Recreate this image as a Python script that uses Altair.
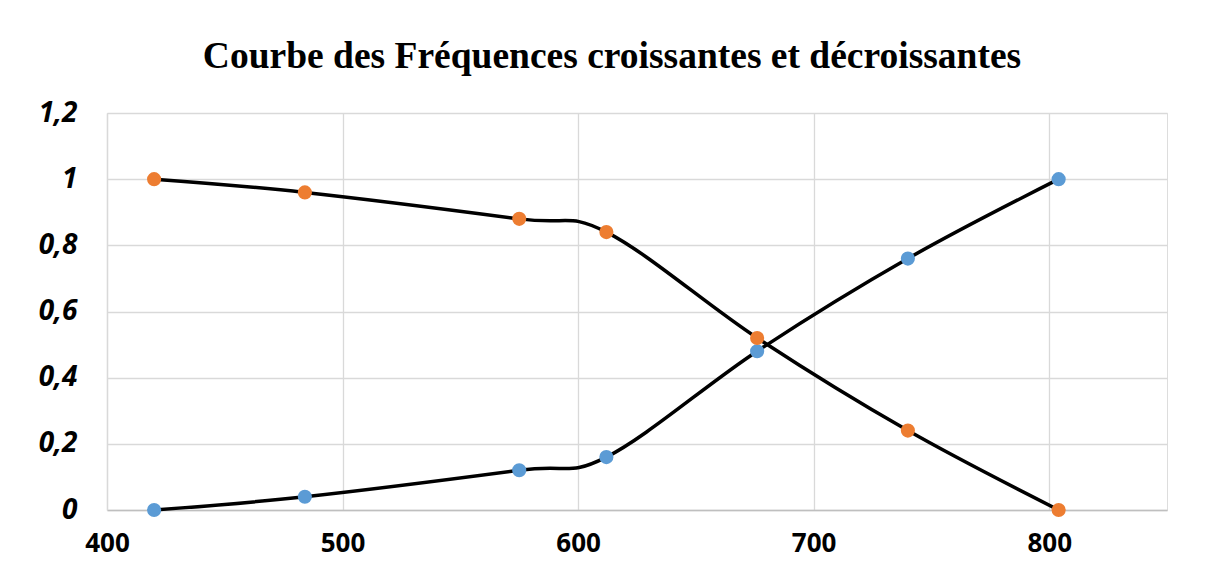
import altair as alt
import pandas as pd

x_values = [420, 484, 575, 612, 676, 740, 804]
croissantes = [0, 0.04, 0.12, 0.16, 0.48, 0.76, 1]
decroissantes = [1, 0.96, 0.88, 0.84, 0.52, 0.24, 0]
series_names = ["Croissantes", "Décroissantes"]
series_colors = ["#5B9BD5", "#ED7D31"]

rows = []
for i, x in enumerate(x_values):
    rows.append({"x": x, "y": croissantes[i], "serie": series_names[0], "ordre": 0})
for i, x in enumerate(x_values):
    rows.append({"x": x, "y": decroissantes[i], "serie": series_names[1], "ordre": 1})
df = pd.DataFrame(rows)

xs = alt.X("x:Q", scale=alt.Scale(domain=[400, 850], nice=False, zero=False),
           axis=alt.Axis(values=[400, 500, 600, 700, 800], title=None, format="d",
                         labelFont="Open Sans", labelFontWeight="bold", labelFontSize=26,
                         labelColor="black", labelPadding=20, ticks=False, labelFlush=False,
                         domainColor="#bfbfbf", domainWidth=1.5,
                         gridColor="#d9d9d9", gridWidth=1.3))
ys = alt.Y("y:Q", scale=alt.Scale(domain=[0, 1.2], nice=False),
           axis=alt.Axis(values=[0, 0.2, 0.4, 0.6, 0.8, 1, 1.2], title=None,
                         labelExpr="replace(format(datum.value, '.1~f'), '.', ',')",
                         labelFont="Open Sans", labelFontWeight="bold", labelFontStyle="italic",
                         labelFontSize=28, labelColor="black", labelPadding=30, ticks=False,
                         labelFlush=False,
                         domainColor="#d9d9d9", domainWidth=1.3,
                         gridColor="#d9d9d9", gridWidth=1.3))

base = alt.Chart(df)
lines = base.mark_line(interpolate="cardinal", color="black", strokeWidth=3.5).encode(
    x=xs, y=ys, detail="serie:N")
points = base.mark_point(filled=True, size=200, opacity=1).encode(
    x=xs, y=ys,
    color=alt.Color("serie:N", scale=alt.Scale(domain=series_names, range=series_colors), legend=None),
    order=alt.Order("ordre:Q"))

chart = alt.layer(lines, points).properties(
    width=1060, height=397,
    title=alt.TitleParams("Courbe des Fréquences croissantes et décroissantes",
                          font="Liberation Serif", fontSize=37.5, fontWeight="bold",
                          color="black", anchor="middle", dx=-25, offset=24),
    autosize=alt.AutoSizeParams(type="none"),
    padding={"left": 99, "top": 105, "right": 33, "bottom": 55},
).configure_view(stroke=None).configure(background="white")

chart.save("out.html", embed_options={"renderer": "svg", "actions": False})
